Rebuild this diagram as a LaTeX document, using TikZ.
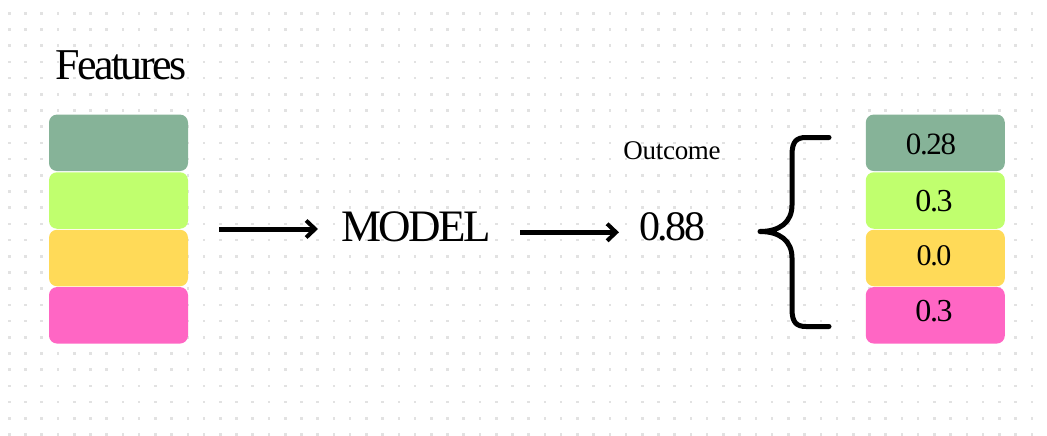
\documentclass[tikz,border=0pt]{standalone}
\usepackage{fontspec}
\setmainfont{Liberation Serif}
\newfontfamily\tightbig[LetterSpace=-6]{Liberation Serif}
\newfontfamily\tightmid[LetterSpace=-4.5]{Liberation Serif}
\newfontfamily\tightsmall[LetterSpace=-1]{Liberation Serif}
\usetikzlibrary{arrows.meta}
\definecolor{sage}{HTML}{86B398}
\definecolor{lime}{HTML}{C0FF6E}
\definecolor{sun}{HTML}{FFDA58}
\definecolor{rose}{HTML}{FF66C4}
\definecolor{dotgray}{HTML}{E2E2E2}
\tikzset{
  bar/.style={rounded corners=8pt, draw=none, minimum width=139pt, minimum height=56.5pt, inner sep=0pt},
  flow/.style={line width=5pt, -{Straight Barb[length=9pt,width=17pt,line width=4pt]}},
  brace/.style={line width=5pt, line cap=round, line join=round},
  lbl/.style={inner sep=0pt, anchor=base, text=black},
}
\begin{document}
\begin{tikzpicture}[x=1pt,y=-1pt]
\useasboundingbox (0,0) rectangle (1047,436);
\fill[white] (0,0) rectangle (1047,436);
% dot grid
\foreach \i in {0,...,64}{
  \foreach \j in {0,...,26}{
    \fill[dotgray] ({9.3+16.23*\i-1.3},{13.3+16.2*\j-1.3}) rectangle ++(2.6,2.6);
  }
}
% feature bars
\node[bar, fill=sage] (f1) at (118.5,142.8) {};
\node[bar, fill=lime] (f2) at (118.5,200.5) {};
\node[bar, fill=sun]  (f3) at (118.5,258) {};
\node[bar, fill=rose] (f4) at (118.5,315.3) {};
\node[lbl, font=\tightbig\fontsize{44}{44}\selectfont] (feat) at (121,79.3) {Features};
% model
\node[lbl, font=\tightbig\fontsize{45}{45}\selectfont] (model) at (416,241.7) {MODEL};
\coordinate (a1s) at (219,229);
\coordinate (a1e) at (318,229);
\draw[flow] (a1s) -- (a1e);
% outcome
\node[lbl, font=\tightsmall\fontsize{27}{27}\selectfont] (outl) at (672,159.3) {Outcome};
\node[lbl, font=\tightbig\fontsize{42}{42}\selectfont] (outv) at (672,240) {0.88};
\coordinate (a2s) at (520,232.3);
\coordinate (a2e) at (619,232.3);
\draw[flow] (a2s) -- (a2e);
% brace
\draw[brace] (829,137.5) -- (806,137.5) .. controls (796,137.5) and (792,142) .. (792,155)
  -- (792,205) .. controls (792,222) and (780,231.5) .. (760,231.5)
  .. controls (780,231.5) and (792,241) .. (792,258)
  -- (792,309) .. controls (792,322) and (796,326.5) .. (806,326.5) -- (829,326.5);
% result bars
\node[bar, fill=sage] (r1) at (935.3,142.8) {};
\node[bar, fill=lime] (r2) at (935.3,200.5) {};
\node[bar, fill=sun]  (r3) at (935.3,258) {};
\node[bar, fill=rose] (r4) at (935.3,315.3) {};
\node[lbl, font=\tightmid\fontsize{31}{31}\selectfont] (v1) at (931,154.3) {0.28};
\node[lbl, font=\tightmid\fontsize{32}{32}\selectfont] (v2) at (934,211.7) {0.3};
\node[lbl, font=\tightmid\fontsize{30}{30}\selectfont] (v3) at (934,265.7) {0.0};
\node[lbl, font=\tightmid\fontsize{32}{32}\selectfont] (v4) at (934,321.7) {0.3};
\end{tikzpicture}
\end{document}
